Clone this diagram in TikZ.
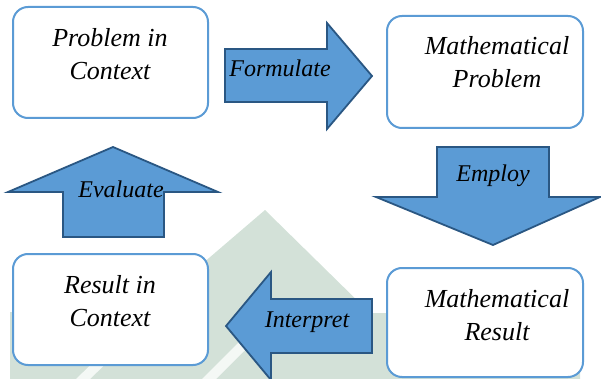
\documentclass[tikz,border=0pt]{standalone}
\usepackage{fontspec}
\setmainfont{Liberation Serif}
\definecolor{boxblue}{HTML}{5B9BD5}
\definecolor{arrowfill}{HTML}{5B9BD5}
\definecolor{arrowline}{HTML}{2A5783}
\definecolor{wmark}{HTML}{D3E1D8}
\tikzset{
  roundbox/.style={draw=boxblue, line width=2pt, fill=white, rounded corners=15pt, inner sep=0pt},
  blockarrow/.style={draw=arrowline, fill=arrowfill, line width=1.8pt, line join=miter},
  boxtext/.style={font=\fontsize{26}{33}\selectfont\itshape, align=center, anchor=base, inner sep=0pt},
  arrowtext/.style={font=\fontsize{24}{29}\selectfont\itshape, anchor=base, inner sep=0pt}
}
\begin{document}
\begin{tikzpicture}[x=1pt,y=-1pt]
\useasboundingbox (0,0) rectangle (601,379);
\clip (0,0) rectangle (601,379);
% faint background watermark
\fill[wmark] (265,210) -- (370,313) -- (580,313) -- (580,379) -- (10,379) -- (10,312) -- (146,312) -- cycle;
\fill[wmark!25!white] (76,379) -- (90,379) -- (118,352) -- (104,352) -- cycle;
\fill[wmark!25!white] (202,379) -- (216,379) -- (262,333) -- (248,333) -- cycle;
% boxes
\node[roundbox, minimum width=195pt, minimum height=111pt] (pic) at (110.5,62.5) {};
\node[roundbox, minimum width=196pt, minimum height=112pt] (mp) at (485,72) {};
\node[roundbox, minimum width=195pt, minimum height=111pt] (ric) at (110.5,309.5) {};
\node[roundbox, minimum width=196pt, minimum height=109pt] (mr) at (485,322.5) {};
\node[boxtext] (picT) at (110,80) {Problem in\\Context};
\node[boxtext] (mpT) at (497,88) {Mathematical\\Problem};
\node[boxtext] (ricT) at (110,326) {Result in\\Context};
\node[boxtext] (mrT) at (497,340) {Mathematical\\Result};
% block arrows
\draw[blockarrow] (225,49) -- (327,49) -- (327,23) -- (372,76) -- (327,129) -- (327,102) -- (225,102) -- cycle;
\draw[blockarrow] (437,147) -- (549,147) -- (549,197) -- (600,197) -- (493,245) -- (376,197) -- (437,197) -- cycle;
\draw[blockarrow] (63,237) -- (63,192) -- (8,192) -- (113,147) -- (218,192) -- (164,192) -- (164,237) -- cycle;
\draw[blockarrow] (372,299) -- (271,299) -- (271,272) -- (226,326) -- (271,380) -- (271,353) -- (372,353) -- cycle;
\node[arrowtext] (formulate) at (280,77) {Formulate};
\node[arrowtext] (employ) at (493,182) {Employ};
\node[arrowtext] (evaluate) at (121,197) {Evaluate};
\node[arrowtext] (interpret) at (307,327) {Interpret};
\end{tikzpicture}
\end{document}
